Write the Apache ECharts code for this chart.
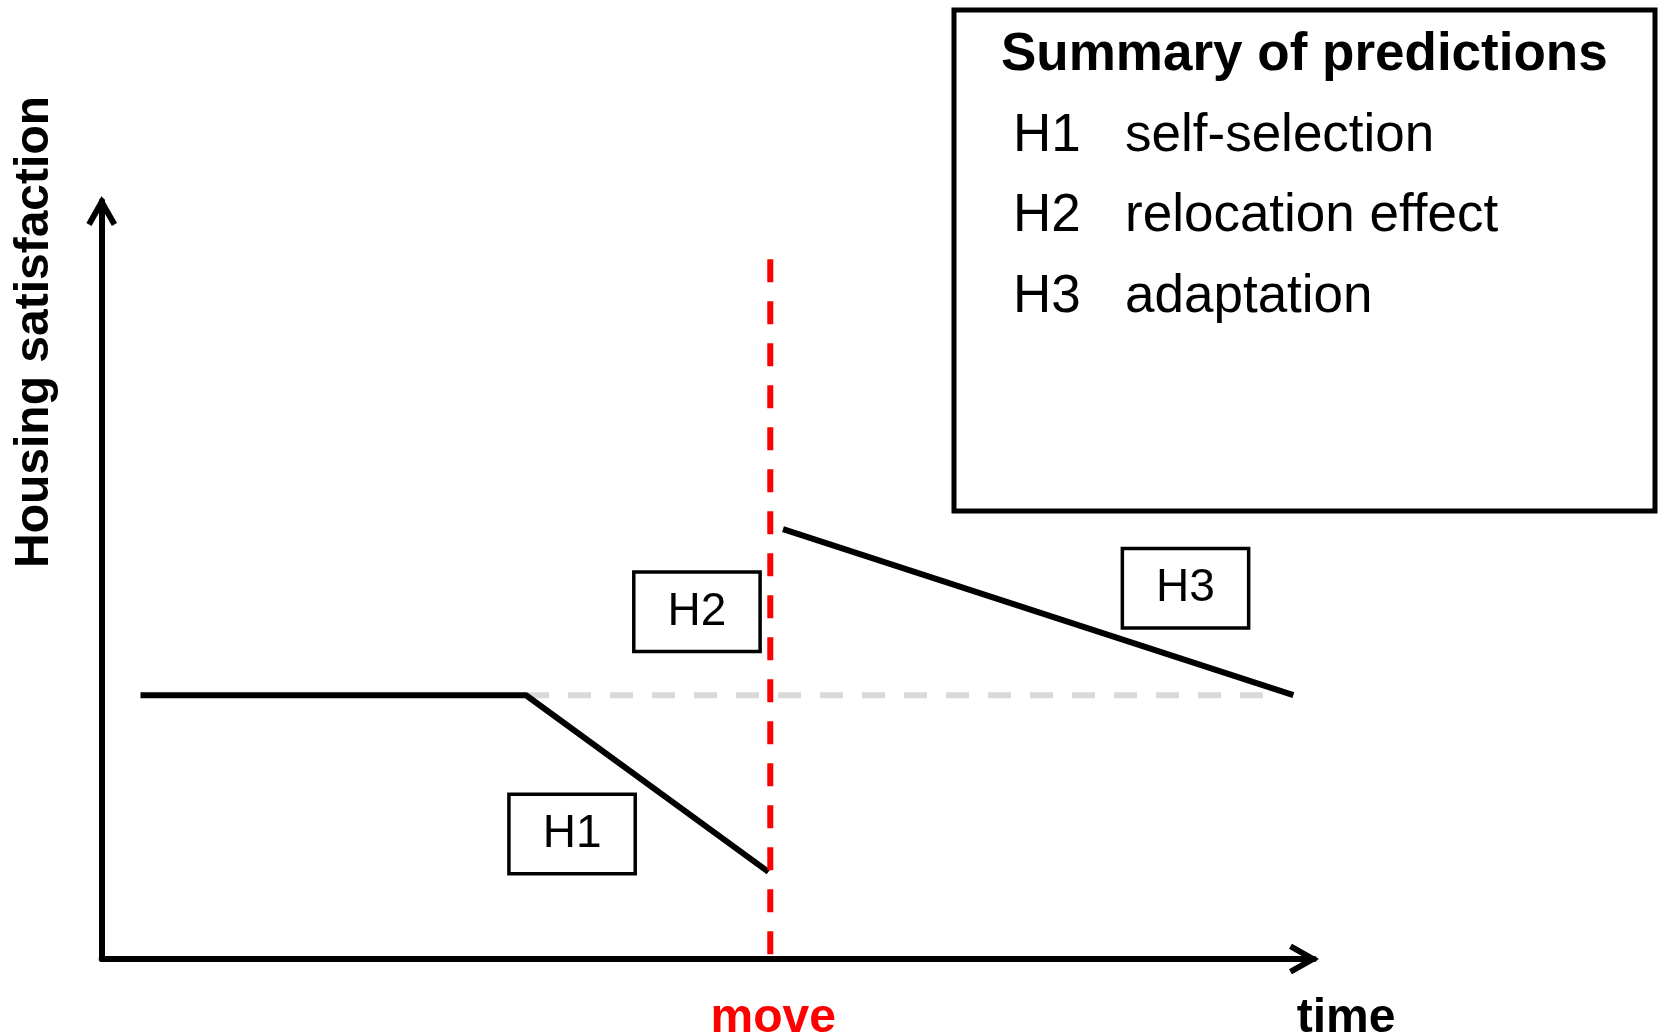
<!DOCTYPE html>
<html>
<head>
<meta charset="utf-8">
<title>Housing satisfaction</title>
<script src="https://cdn.jsdelivr.net/npm/echarts@6/dist/echarts.min.js"></script>
<style>
  html, body { margin: 0; padding: 0; background: #fff; }
  #chart { width: 1659px; height: 1036px; }
</style>
</head>
<body>
<div id="chart"></div>
<script>
// x = time (0-100), y = housing satisfaction (0-100)
const stablePath = [[3.2, 34.8], [35.0, 34.8], [55.0, 11.5]] // before the move, H1 decline
const adaptPath = [[56.2, 56.7], [98.3, 34.8]] // after the move, H3 adaptation
const noChange = [[35.0, 34.8], [95.8, 34.8]] // grey reference level
const moveLine = [[55.15, 92.3], [55.15, 0]]
const boxNames = ['H1', 'H2', 'H3']
const boxPos = [[38.8, 16.5], [49.1, 45.8], [89.4, 48.9]]
const summaryTitle = 'Summary of predictions'
const summaryKeys = ['H1', 'H2', 'H3']
const summaryTexts = ['self-selection', 'relocation effect', 'adaptation']

const FONT = 'Liberation Sans, Arial, sans-serif'

// open chevron arrow, tip at the top
const chevron = 'path://M16,0 L31.6,27.6 L26.4,30.6 L16,12.2 L5.6,30.6 L0.4,27.6 Z'

const axisLine = {
  show: true,
  symbol: ['none', chevron],
  symbolSize: [31, 30],
  symbolOffset: [0, -10],
  lineStyle: { color: '#000', width: 6 }
}

const chart = echarts.init(document.getElementById('chart'))

const summaryGraphics = [{
  type: 'rect',
  shape: { x: 954, y: 10, width: 701, height: 501 },
  style: { fill: '#fff', stroke: '#000', lineWidth: 5 }
}, {
  type: 'text',
  x: 1001,
  y: 55,
  style: { text: summaryTitle, font: 'bold 53px ' + FONT, fill: '#000', verticalAlign: 'middle' }
}]
for (let i = 0; i < summaryKeys.length; i++) {
  const y = 136 + i * 80.5
  summaryGraphics.push({
    type: 'text', x: 1013, y: y,
    style: { text: summaryKeys[i], font: '53px ' + FONT, fill: '#000', verticalAlign: 'middle' }
  })
  summaryGraphics.push({
    type: 'text', x: 1125, y: y,
    style: { text: summaryTexts[i], font: '53px ' + FONT, fill: '#000', verticalAlign: 'middle' }
  })
}

chart.setOption({
  animation: false,
  backgroundColor: '#fff',
  grid: { left: 101.7, right: 345, top: 201, bottom: 77 },
  xAxis: {
    type: 'value', min: 0, max: 100,
    axisLine: axisLine,
    axisTick: { show: false }, axisLabel: { show: false }, splitLine: { show: false }
  },
  yAxis: {
    type: 'value', min: 0, max: 100,
    axisLine: axisLine,
    axisTick: { show: false }, axisLabel: { show: false }, splitLine: { show: false }
  },
  graphic: summaryGraphics.concat([{
    type: 'text',
    x: 35, y: 332, rotation: Math.PI / 2,
    style: { text: 'Housing satisfaction', font: 'bold 48px ' + FONT, fill: '#000', align: 'center', verticalAlign: 'middle' }
  }, {
    type: 'text',
    x: 1346, y: 1019,
    style: { text: 'time', font: 'bold 48px ' + FONT, fill: '#000', align: 'center', verticalAlign: 'middle' }
  }]),
  series: [{
    type: 'line',
    data: noChange,
    symbol: 'none',
    clip: false,
    lineStyle: { color: '#d9d9d9', width: 6, type: [23, 19] }
  }, {
    type: 'line',
    data: stablePath,
    symbol: 'none',
    clip: false,
    lineStyle: { color: '#000', width: 6 }
  }, {
    type: 'line',
    data: adaptPath,
    symbol: 'none',
    clip: false,
    lineStyle: { color: '#000', width: 6 }
  }, {
    type: 'line',
    data: moveLine,
    symbol: 'none',
    clip: false,
    lineStyle: { color: '#ff0000', width: 6, type: [23, 19] }
  }, {
    // "move" label under the red line
    type: 'scatter',
    symbolSize: 0,
    data: [moveLine[1]],
    itemStyle: { opacity: 1 },
    label: {
      show: true, position: 'bottom', distance: 36, offset: [3, 0],
      formatter: 'move', color: '#ff0000', fontFamily: FONT, fontWeight: 'bold', fontSize: 48
    }
  }, {
    // boxed hypothesis labels
    type: 'scatter',
    symbolSize: 0,
    data: boxPos.map((p, i) => ({ value: p, name: boxNames[i] })),
    itemStyle: { opacity: 1 },
    label: {
      show: true,
      position: 'inside',
      formatter: '{b}',
      color: '#000',
      opacity: 1,
      textBorderWidth: 0,
      fontFamily: FONT,
      fontSize: 46,
      lineHeight: 46,
      backgroundColor: '#fff',
      borderColor: '#000',
      borderWidth: 3.5,
      padding: [15, 32]
    },
    z: 5
  }]
})
</script>
</body>
</html>
